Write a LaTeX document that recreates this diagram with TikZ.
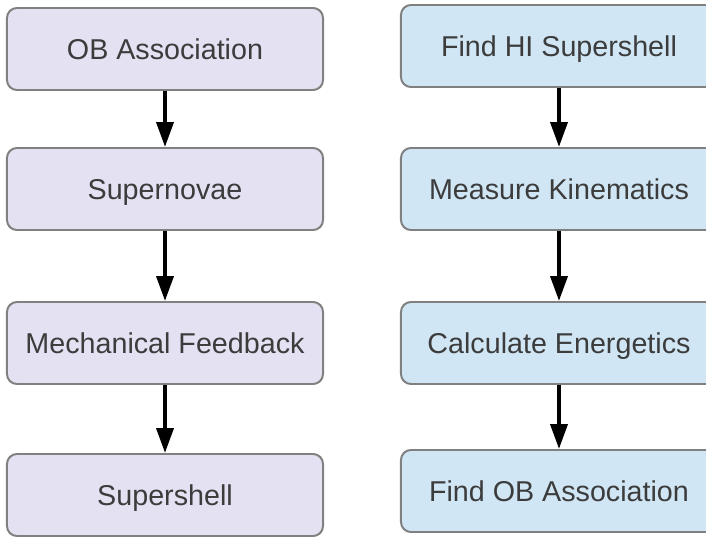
\documentclass[tikz,border=0pt]{standalone}
\usepackage{fontspec}
\setmainfont{Liberation Sans}
\usetikzlibrary{arrows.meta}
\definecolor{Ink}{HTML}{3C3C3C}
\definecolor{Edge}{HTML}{808080}
\definecolor{Lilac}{HTML}{E4E2F2}
\definecolor{Sky}{HTML}{D0E6F4}
\tikzset{
  stagebox/.style={draw=Edge,line width=1.4pt,rounded corners=0.25cm,
    minimum width=7.9cm,minimum height=2.05cm,text=Ink,
    text height=14.6pt,text depth=0pt,
    font=\fontsize{20.4}{24}\selectfont},
  flow/.style={line width=2.8pt,-{Triangle[length=0.62cm,width=0.42cm]}}
}

\begin{document}
\begin{tikzpicture}[x=0.025cm,y=-0.025cm]
  \clip (0,0) rectangle (706,537);
  \fill[white] (0,0) rectangle (706,537);

  % physical picture: star cluster to shell
  \foreach \y/\name/\txt in {
    49/l1/OB Association,
    189/l2/Supernovae,
    343/l3/Mechanical Feedback,
    495/l4/Supershell}{
      \node[stagebox,fill=Lilac] (\name) at (165,\y) {\txt};
  }

  % observational route: shell back to cluster
  \foreach \y/\name/\txt in {
    46/r1/Find HI Supershell,
    189/r2/Measure Kinematics,
    343/r3/Calculate Energetics,
    491/r4/Find OB Association}{
      \node[stagebox,fill=Sky] (\name) at (559,\y) {\txt};
  }

  \draw[flow] (l1) -- (l2);
  \draw[flow] (l2) -- (l3);
  \draw[flow] (l3) -- (l4);
  \draw[flow] (r1) -- (r2);
  \draw[flow] (r2) -- (r3);
  \draw[flow] (r3) -- (r4);
\end{tikzpicture}
\end{document}
